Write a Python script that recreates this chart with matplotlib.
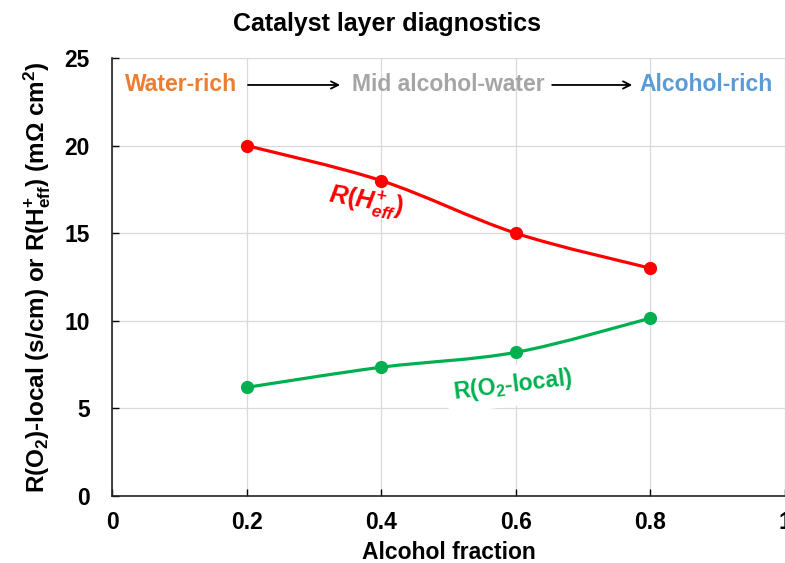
import numpy as np
import matplotlib
matplotlib.use("Agg")
import matplotlib.pyplot as plt
from matplotlib.path import Path
from matplotlib.patches import PathPatch

plt.rcParams['font.family'] = ['Liberation Sans', 'DejaVu Sans']
plt.rcParams['mathtext.fontset'] = 'custom'
plt.rcParams['mathtext.rm'] = 'Liberation Sans:bold'
plt.rcParams['mathtext.it'] = 'Liberation Sans:bold:italic'
plt.rcParams['mathtext.bf'] = 'Liberation Sans:bold'

alcohol_fraction = [0.2, 0.4, 0.6, 0.8]
r_h_eff = [20.0, 18.0, 15.0, 13.0]
r_o2_local = [6.2, 7.35, 8.2, 10.15]

regimes = ['Water-rich', 'Mid alcohol-water', 'Alcohol-rich']
regime_colors = ['#ED7D31', '#A5A5A5', '#5B9BD5']

RED = '#FF0000'
GREEN = '#00B050'


def smooth_path(x, y, tension=1 / 6):
    """Cubic Bezier through the points, spreadsheet-style smoothing."""
    x = np.asarray(x, float)
    y = np.asarray(y, float)
    n = len(x)
    verts = [(x[0], y[0])]
    codes = [Path.MOVETO]
    for i in range(n - 1):
        i0 = max(i - 1, 0)
        i3 = min(i + 2, n - 1)
        c1 = (x[i] + (x[i + 1] - x[i0]) * tension, y[i] + (y[i + 1] - y[i0]) * tension)
        c2 = (x[i + 1] - (x[i3] - x[i]) * tension, y[i + 1] - (y[i3] - y[i]) * tension)
        verts += [c1, c2, (x[i + 1], y[i + 1])]
        codes += [Path.CURVE4] * 3
    return Path(verts, codes)


fig = plt.figure(figsize=(7.85, 5.63), dpi=100)
ax = fig.add_axes([0.1427, 0.119, 0.8573, 0.778])

for ys, c in [(r_h_eff, RED), (r_o2_local, GREEN)]:
    ax.add_patch(PathPatch(smooth_path(alcohol_fraction, ys), fc='none', ec=c,
                           lw=2.3, zorder=3, capstyle='round'))
    ax.plot(alcohol_fraction, ys, 'o', color=c, ms=8.5, zorder=4)

ax.set_xlim(0, 1)
ax.set_ylim(0, 25)
ax.set_xticks(np.arange(0, 1.01, 0.2))
ax.set_xticklabels(['0', '0.2', '0.4', '0.6', '0.8', '1'])
ax.set_yticks(np.arange(0, 26, 5))
ax.grid(True, color='#D9D9D9', lw=0.9, zorder=0)
ax.set_axisbelow(True)
for side in ['top', 'right']:
    ax.spines[side].set_visible(False)
for side in ['left', 'bottom']:
    ax.spines[side].set_linewidth(1.2)
    ax.spines[side].set_color('#222222')
ax.tick_params(labelsize=16.5, length=5, width=1, direction='in')
ax.tick_params(axis='x', pad=11)
ax.tick_params(axis='y', pad=16)
for lbl in ax.get_xticklabels() + ax.get_yticklabels():
    lbl.set_fontweight('bold')

ax.set_xlabel('Alcohol fraction', fontsize=16.5, fontweight='bold', labelpad=5)
ax.set_ylabel(r'R(O$_2$)-local (s/cm) or R(H$^{+}_{\rm eff}$) (m$\Omega$ cm$^2$)',
              fontsize=17.5, fontweight='bold', labelpad=8)
fig.suptitle('Catalyst layer diagnostics', x=0.493, y=0.978, fontsize=18,
             fontweight='bold')

# regime labels along the top with arrows between them
xs = [0.1025, 0.499, 0.883]
ty = 23.46
for x, name, c in zip(xs, regimes, regime_colors):
    ax.text(x, ty, name, color=c, fontsize=16.5, fontweight='bold',
            ha='center', va='center')
for x0, x1 in [(0.202, 0.339), (0.654, 0.773)]:
    ax.annotate('', xy=(x1, ty), xytext=(x0, ty),
                arrowprops=dict(arrowstyle='->', color='black', lw=1.3,
                                mutation_scale=13, shrinkA=0, shrinkB=0))

# curve labels
ax.text(0.378, 16.75, r'$R(H^{+}_{eff})$', color=RED, fontsize=18,
        ha='center', va='center', rotation=-10)
ax.text(0.596, 6.3, r'R(O$_2$-local)', color=GREEN, fontsize=16.5,
        fontweight='bold', ha='center', va='center', rotation=7,
        bbox=dict(boxstyle='square,pad=0.3', fc='white', ec='none'))

fig.savefig('out.png', dpi=100)
